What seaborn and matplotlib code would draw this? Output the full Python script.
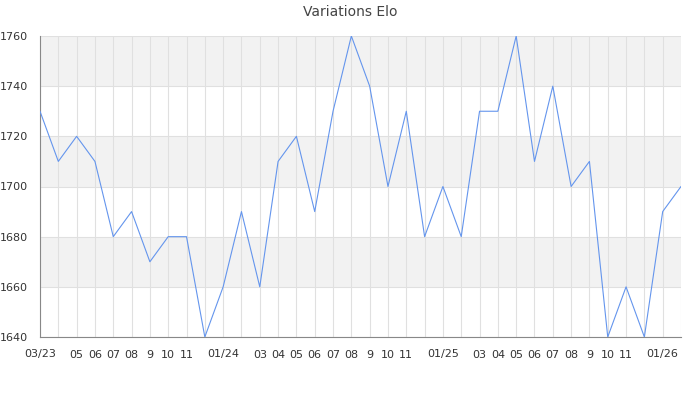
import matplotlib
matplotlib.use("Agg")
import matplotlib.pyplot as plt
import seaborn as sns
import pandas as pd

months = ["03/23", "04/23", "05/23", "06/23", "07/23", "08/23", "09/23", "10/23", "11/23", "12/23",
          "01/24", "02/24", "03/24", "04/24", "05/24", "06/24", "07/24", "08/24", "09/24", "10/24",
          "11/24", "12/24", "01/25", "02/25", "03/25", "04/25", "05/25", "06/25", "07/25", "08/25",
          "09/25", "10/25", "11/25", "12/25", "01/26", "02/26"]
elo = [1730, 1710, 1720, 1710, 1680, 1690, 1670, 1680, 1680, 1640,
       1660, 1690, 1660, 1710, 1720, 1690, 1730, 1760, 1740, 1700,
       1730, 1680, 1700, 1680, 1730, 1730, 1760, 1710, 1740, 1700,
       1710, 1640, 1660, 1640, 1690, 1700]
tick_labels = ["03/23", "", "05", "06", "07", "08", "9", "10", "11", "",
               "01/24", "", "03", "04", "05", "06", "07", "08", "9", "10",
               "11", "", "01/25", "", "03", "04", "05", "06", "07", "08",
               "9", "10", "11", "", "01/26", ""]
y_ticks = [1640, 1660, 1680, 1700, 1720, 1740, 1760]
bands = [(1660, 1680), (1700, 1720), (1740, 1760)]

df = pd.DataFrame({"idx": range(len(months)), "elo": elo})

sns.set_style("white")
plt.rcParams['font.family'] = ['DejaVu Sans']
fig = plt.figure(figsize=(7, 4), dpi=100)
ax = fig.add_axes([40/700, 1-337/400, (681-40)/700, (337-36)/400])

for lo, hi in bands:
    ax.axhspan(lo, hi, color="#f2f2f2", zorder=0, lw=0)
for i in range(len(months)):
    ax.axvline(i, color="#e0e0e0", lw=0.8, zorder=1)
for y in y_ticks:
    ax.axhline(y, color="#e0e0e0", lw=0.8, zorder=1)

sns.lineplot(data=df, x="idx", y="elo", ax=ax, color="#6495ED", lw=0.8, zorder=3)

ax.set_xlim(0, len(months) - 1)
ax.set_ylim(1640, 1760)
ax.set_xticks(range(len(months)))
ax.set_xticklabels(tick_labels)
ax.set_yticks(y_ticks)
ax.set_yticks(range(1650, 1760, 20), minor=True)
ax.tick_params(axis="x", length=0, labelsize=8, colors="#333333", pad=9)
ax.tick_params(axis="y", which="major", length=5, width=0.8, color="#888888", labelsize=8, labelcolor="#333333", direction="out")
ax.tick_params(axis="y", which="minor", length=3, width=0.8, color="#888888", direction="out")
ax.set_xlabel("")
ax.set_ylabel("")
for s in ["top", "right"]:
    ax.spines[s].set_visible(False)
for s in ["left", "bottom"]:
    ax.spines[s].set_color("#888888")
    ax.spines[s].set_linewidth(0.8)

fig.text(0.5, 1-12/400, "Variations Elo", ha="center", va="center", fontsize=10, color="#444444")
fig.savefig("out.png", dpi=100)
